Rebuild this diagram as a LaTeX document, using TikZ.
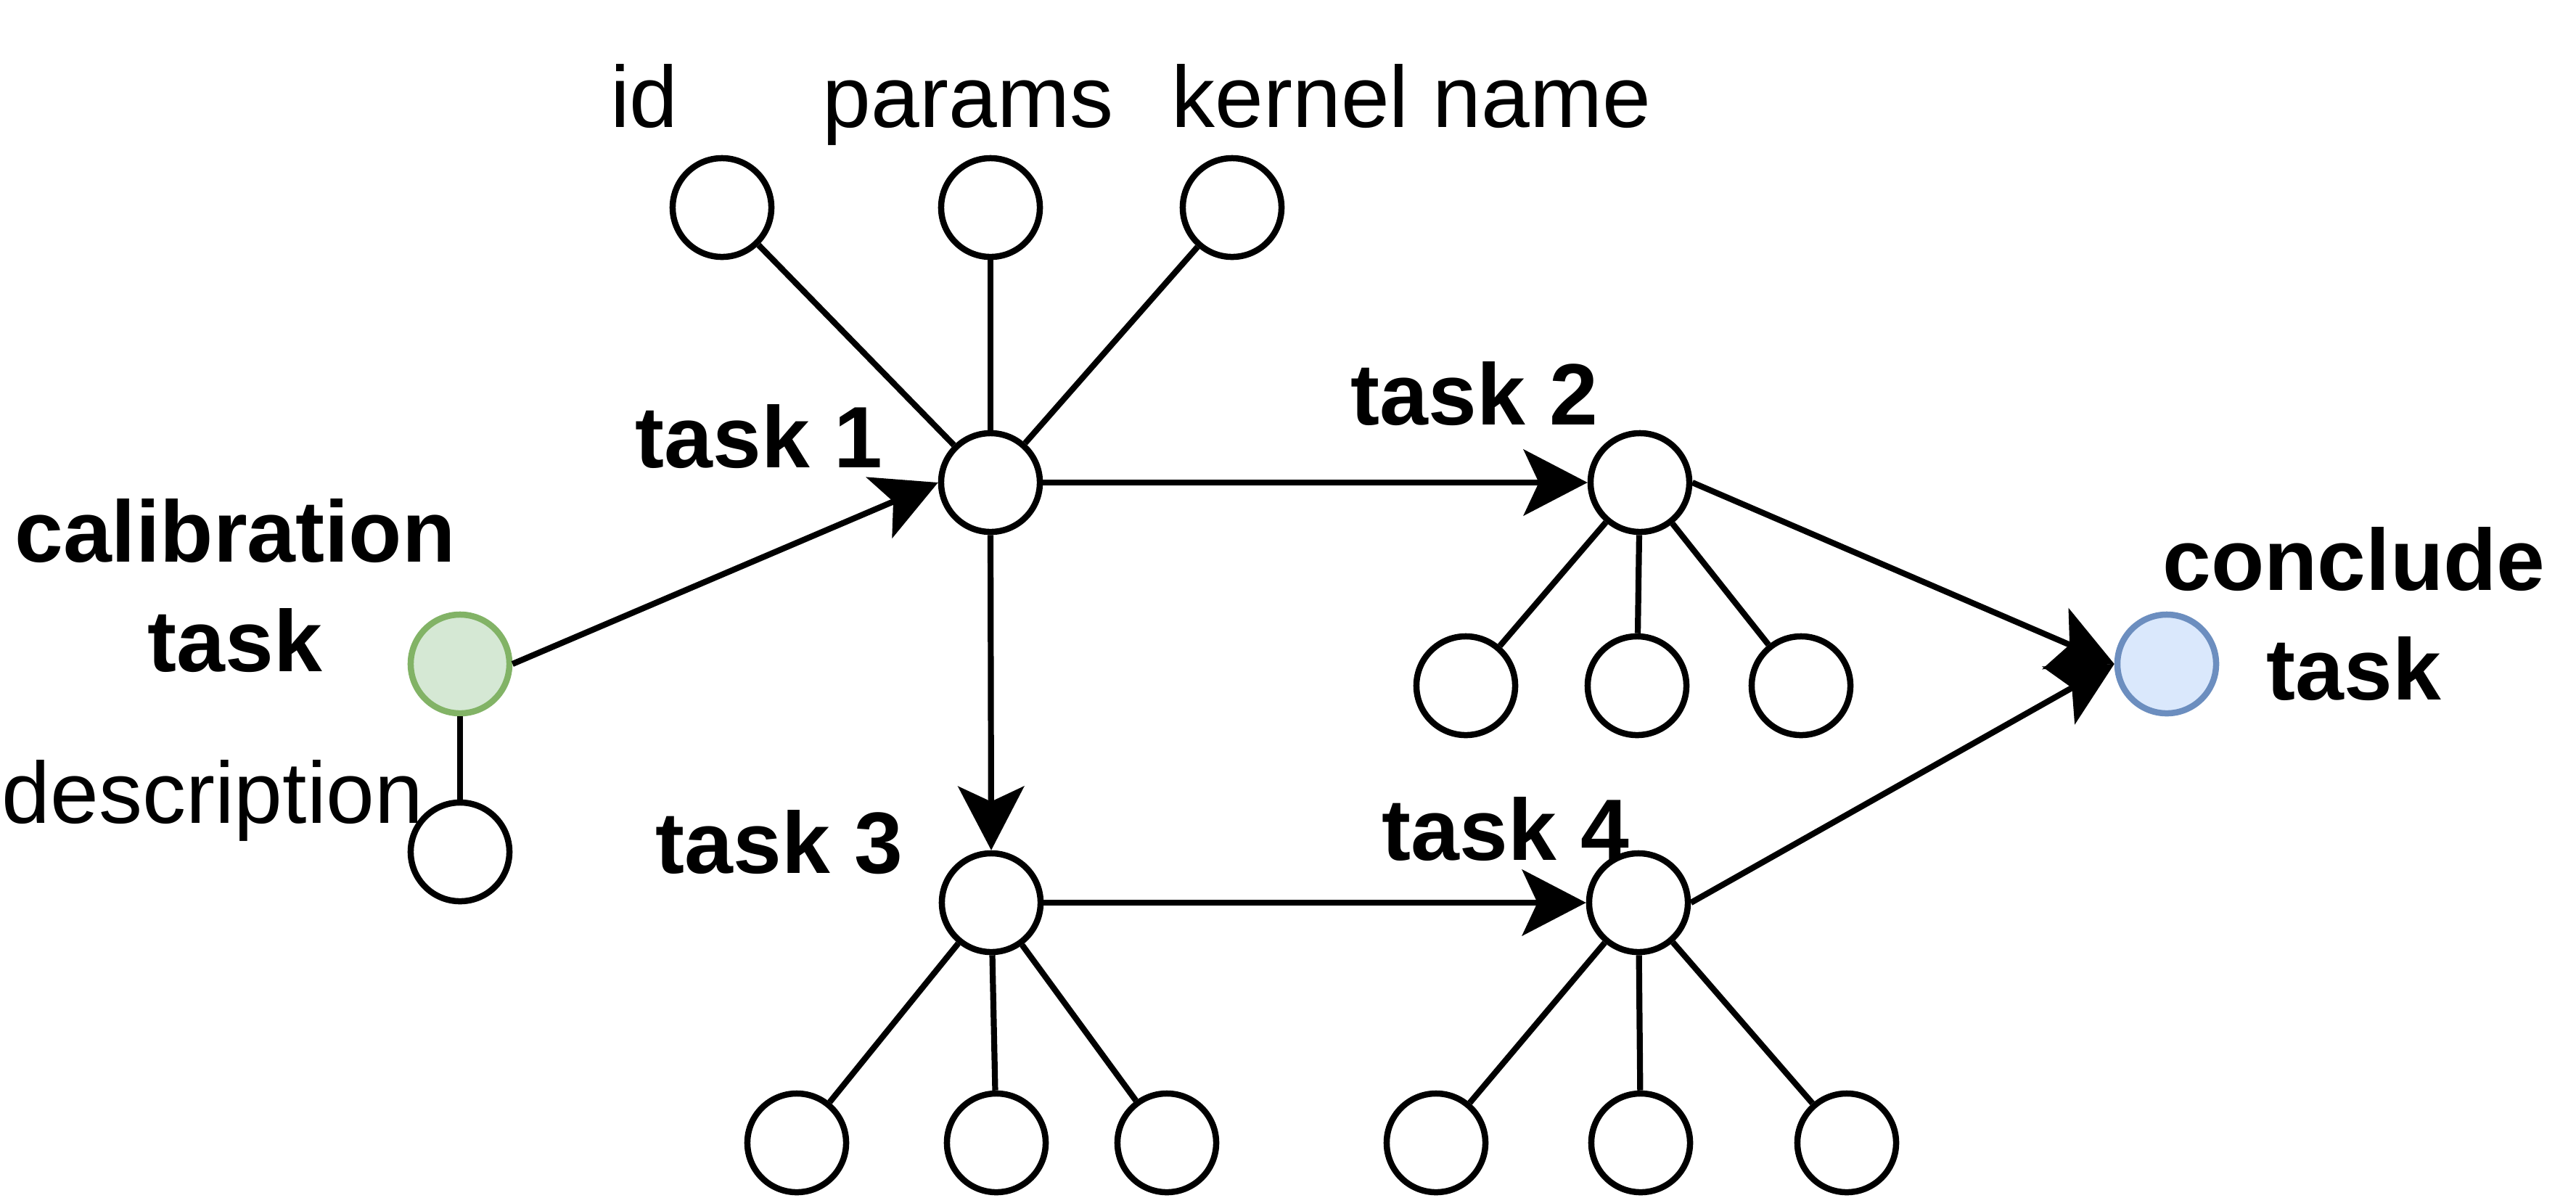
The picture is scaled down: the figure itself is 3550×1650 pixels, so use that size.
\documentclass[tikz,border=0pt]{standalone}
\usepackage{fontspec}
\setmainfont{Liberation Sans}
\usetikzlibrary{arrows.meta}
\definecolor{gfill}{HTML}{D5E8D4}
\definecolor{gdraw}{HTML}{82B366}
\definecolor{bfill}{HTML}{DAE8FC}
\definecolor{bdraw}{HTML}{6C8EBF}
\begin{document}
\begin{tikzpicture}[x=0.01cm,y=-0.01cm,
  dot/.style={circle,draw,line width=0.085cm,minimum size=1.36cm,inner sep=0pt,fill=white},
  conn/.style={line width=0.082cm},
  arr/.style={conn,-{Stealth[length=0.88cm,width=0.91cm,inset=0.21cm]}},
  lbl/.style={font=\fontsize{34.14}{42.7}\selectfont,anchor=base,inner sep=0pt,align=center},
  blbl/.style={lbl,font=\fontsize{34.14}{42.7}\selectfont\bfseries}]
\useasboundingbox[fill=white] (0,0) rectangle (3550,1650);

% circles
\node[dot,fill=gfill,draw=gdraw] (cal) at (634,915) {};
\node[dot] (desc) at (634,1174) {};
\node[dot] (t1) at (1365,665) {};
\node[dot] (id) at (995,286) {};
\node[dot] (par) at (1365,286) {};
\node[dot] (ker) at (1698,286) {};
\node[dot] (t2) at (2260,665) {};
\node[dot] (t2a) at (2020,945) {};
\node[dot] (t2b) at (2256,945) {};
\node[dot] (t2c) at (2482,945) {};
\node[dot] (t3) at (1366,1244) {};
\node[dot] (t3a) at (1098,1575) {};
\node[dot] (t3b) at (1373,1575) {};
\node[dot] (t3c) at (1608,1575) {};
\node[dot] (t4) at (2258,1244) {};
\node[dot] (t4a) at (1979,1575) {};
\node[dot] (t4b) at (2261,1575) {};
\node[dot] (t4c) at (2545,1575) {};
\node[dot,fill=bfill,draw=bdraw] (con) at (2986,915) {};

% labels
\node[lbl] (lid) at (888,175) {id};
\node[lbl] (lpar) at (1334,175) {params};
\node[lbl] (lker) at (1945,175) {kernel name};
\node[lbl] (ldesc) at (293,1134) {description};
\node[blbl] (lcal) at (324,925) {calibration\\task};
\node[blbl] (lcon) at (3244,964) {conclude\\task};
\node[blbl] (lt1) at (1046,644) {task 1};
\node[blbl] (lt2) at (2032,585) {task 2};
\node[blbl] (lt3) at (1074,1203) {task 3};
\node[blbl] (lt4) at (2075,1185) {task 4};

% plain connectors
\draw[conn] (cal) -- (desc);
\draw[conn] (id) -- (t1);
\draw[conn] (par) -- (t1);
\draw[conn] (ker) -- (t1);
\draw[conn] (t2) -- (t2a);
\draw[conn] (t2) -- (t2b);
\draw[conn] (t2) -- (t2c);
\draw[conn] (t3) -- (t3a);
\draw[conn] (t3) -- (t3b);
\draw[conn] (t3) -- (t3c);
\draw[conn] (t4) -- (t4a);
\draw[conn] (t4) -- (t4b);
\draw[conn] (t4) -- (t4c);

% arrows
\draw[arr] (cal.east) -- (t1.west);
\draw[arr] (t1.east) -- (t2.west);
\draw[arr] (t1.south) -- (t3.north);
\draw[arr] (t3.east) -- (t4.west);
\draw[arr] (t2.east) -- (con.west);
\draw[arr] (t4.east) -- (con.west);
\end{tikzpicture}
\end{document}
